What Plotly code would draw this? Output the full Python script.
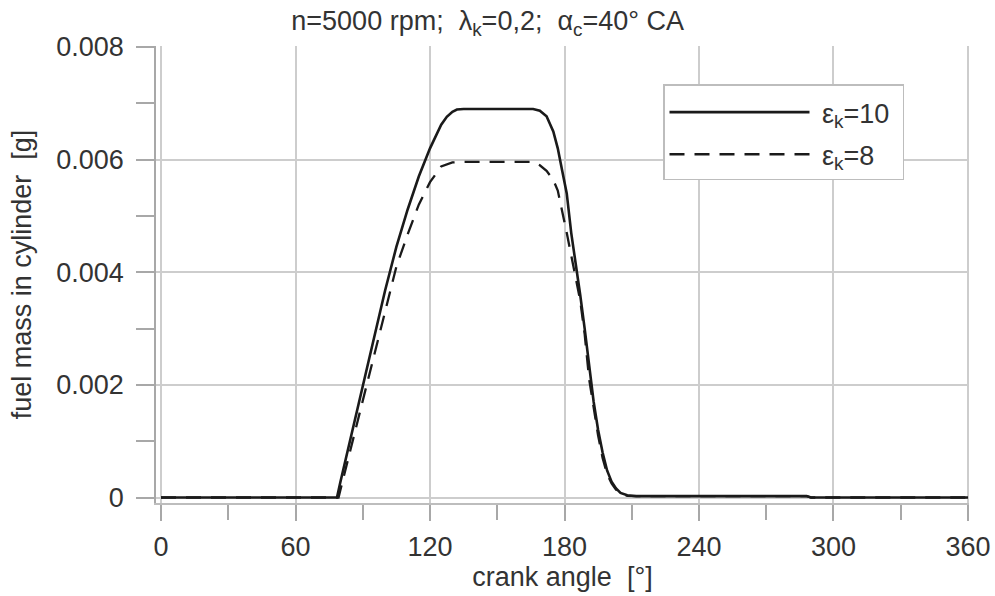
import plotly.graph_objects as go

# ---- data ----
angle_e10 = [0, 78.5, 80, 85, 90, 95, 100, 105, 110, 115, 120, 125, 127.5, 130, 132, 135,
             166, 169, 172, 175, 177, 179, 181, 183, 185, 187, 189, 191, 193, 195, 197,
             199, 201, 203, 205, 208, 212, 288, 290, 360]
mass_e10 = [0, 0, 0.00027, 0.00113, 0.00199, 0.00284, 0.00368, 0.00445, 0.00511, 0.0057,
            0.0062, 0.00662, 0.00676, 0.00685, 0.00689, 0.0069,
            0.0069, 0.00687, 0.00677, 0.0065, 0.0062, 0.0058, 0.0054, 0.0047, 0.0041,
            0.0036, 0.0030, 0.0023, 0.0017, 0.0012, 0.0008,
            0.00048, 0.00028, 0.00016, 0.00008, 0.00004, 0.000025, 0.000025, 0, 0]

angle_e8 = [0, 79.2, 80, 85, 90, 95, 100, 105, 110, 115, 120, 125, 130, 135,
            166, 169, 172, 175, 177, 179, 181, 183, 185, 187, 189, 191, 193, 195, 197,
            199, 201, 203, 205, 208, 212, 288, 290, 360]
mass_e8 = [0, 0, 0.00013, 0.00093, 0.00172, 0.00252, 0.00332, 0.0041, 0.00467, 0.0052,
           0.0056, 0.00588, 0.00595, 0.00596,
           0.00596, 0.0059, 0.0058, 0.00564, 0.00545, 0.0051, 0.0047, 0.0043, 0.0039,
           0.0035, 0.0029, 0.0021, 0.0016, 0.0011, 0.0007,
           0.00042, 0.00025, 0.00014, 0.00007, 0.00003, 0.000025, 0.000025, 0, 0]

series_names = ["\u00a0ε<sub>k</sub>=10\u00a0", "\u00a0ε<sub>k</sub>=8"]
title_text = "n=5000 rpm;\u00a0\u00a0λ<sub>k</sub>=0,2;\u00a0\u00a0α<sub>c</sub>=40° CA"
x_title = "crank angle\u00a0\u00a0[°]"
y_title = "fuel mass in cylinder\u00a0\u00a0[g]"

TXT = "#333333"
GRID = "#cdcdcd"
AXL = "#a8a8a8"
LINE = "#1a1a1a"
FS = 27

fig = go.Figure()
fig.add_trace(go.Scatter(x=angle_e10, y=mass_e10, mode="lines", name=series_names[0],
                         legendgroup="a", line=dict(color=LINE, width=2.6)))
fig.add_trace(go.Scatter(x=angle_e8, y=mass_e8, mode="lines", name=series_names[1],
                         legendgroup="b", line=dict(color=LINE, width=2.3, dash="15px,10px")))

fig.update_layout(
    width=995, height=596,
    margin=dict(l=156, r=26, t=46, b=93, autoexpand=False),
    plot_bgcolor="white", paper_bgcolor="white",
    font=dict(family="Liberation Sans, Arial, sans-serif", size=FS, color=TXT),
    title=dict(text=title_text, x=0.408, xref="paper", xanchor="center",
               y=1 - 21 / 596, yref="container", yanchor="middle",
               font=dict(size=FS, color=TXT)),
    showlegend=True,
    legend=dict(x=(663 - 156) / 813, y=(503 - 84) / 457, xanchor="left", yanchor="top",
                bordercolor="#bdbdbd", borderwidth=1.5, bgcolor="white",
                itemwidth=140, tracegroupgap=4, traceorder="grouped",
                title=dict(text="\u00a0", font=dict(size=2)),
                font=dict(size=FS, color=TXT)),
    xaxis=dict(range=[-2.23, 360.45], tick0=0, dtick=60, automargin=False,
               showgrid=True, gridcolor=GRID, gridwidth=1.5, zeroline=False,
               showline=True, linecolor="#bdbdbd", linewidth=1.5,
               ticks="outside", ticklen=16, tickwidth=1.5, tickcolor=AXL,
               ticklabelstandoff=3,
               minor=dict(tick0=0, dtick=30, ticks="outside", ticklen=15,
                          tickwidth=1.5, tickcolor=AXL, showgrid=False),
               title=dict(text=x_title, standoff=2, font=dict(size=FS, color=TXT))),
    yaxis=dict(range=[-0.0000977, 0.0080178], tick0=0, dtick=0.002, automargin=True,
               showgrid=True, gridcolor=GRID, gridwidth=1.5, zeroline=False,
               showline=True, linecolor=AXL, linewidth=1.5,
               ticks="outside", ticklen=18, tickwidth=1.5, tickcolor=AXL,
               ticklabelstandoff=7,
               minor=dict(tick0=0, dtick=0.001, ticks="outside", ticklen=18,
                          tickwidth=1.5, tickcolor=AXL, showgrid=False),
               title=dict(text=y_title, standoff=17, font=dict(size=FS, color=TXT))),
)

fig.write_html("out.html", config={"displayModeBar": False},
               post_script="document.body.style.margin='0px';")
